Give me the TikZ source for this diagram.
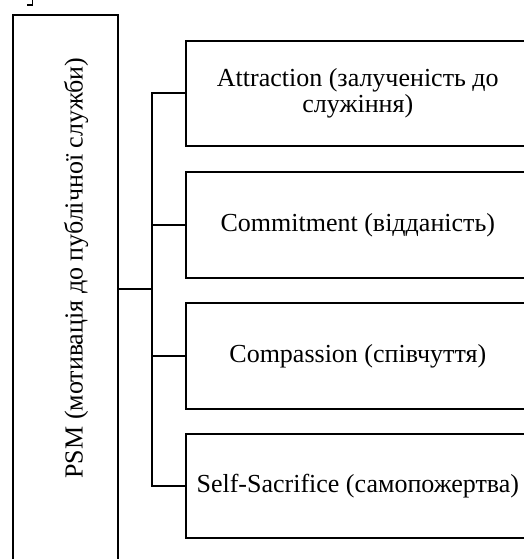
\documentclass[tikz,border=0pt]{standalone}
\usepackage{fontspec}
\setmainfont{Liberation Serif}
\begin{document}
\begin{tikzpicture}[x=1pt,y=-1pt,
  box/.style={draw, line width=1.6pt, anchor=north west, inner sep=0pt, minimum width=344pt},
  lbl/.style={font=\fontsize{26}{25.5}\selectfont, align=center},
  conn/.style={line width=1.6pt}]
\useasboundingbox (0,0) rectangle (523,559);
% fragment at top-left
\coordinate (fa) at (27,5);
\coordinate (fb) at (32.5,5);
\coordinate (fc) at (32.5,-5);
\draw[conn] (fa) -- (fb) -- (fc);
% main box
\node[box, minimum width=105pt, minimum height=600pt] (psm) at (12,14) {};
\node[lbl, rotate=90] (psmt) at (76,268) {PSM (мотивація до публічної служби)};
% sub boxes
\node[box, lbl, minimum height=105pt] (b1) at (185,40) {Attraction (залученість до\\служіння)};
\node[box, lbl, minimum height=106pt] (b2) at (185,171) {Commitment (відданість)};
\node[box, lbl, minimum height=106pt] (b3) at (185,302) {Compassion (співчуття)};
\node[box, lbl, minimum height=104pt] (b4) at (185,433) {Self-Sacrifice (самопожертва)};
% connectors
\coordinate (j) at (152,289);
\draw[conn] (psm.east |- j) -- (j);
\draw[conn] (b1.west) -- (b1.west -| j) -- (b4.west -| j) -- (b4.west);
\draw[conn] (b2.west) -- (b2.west -| j);
\draw[conn] (b3.west) -- (b3.west -| j);
\end{tikzpicture}
\end{document}
